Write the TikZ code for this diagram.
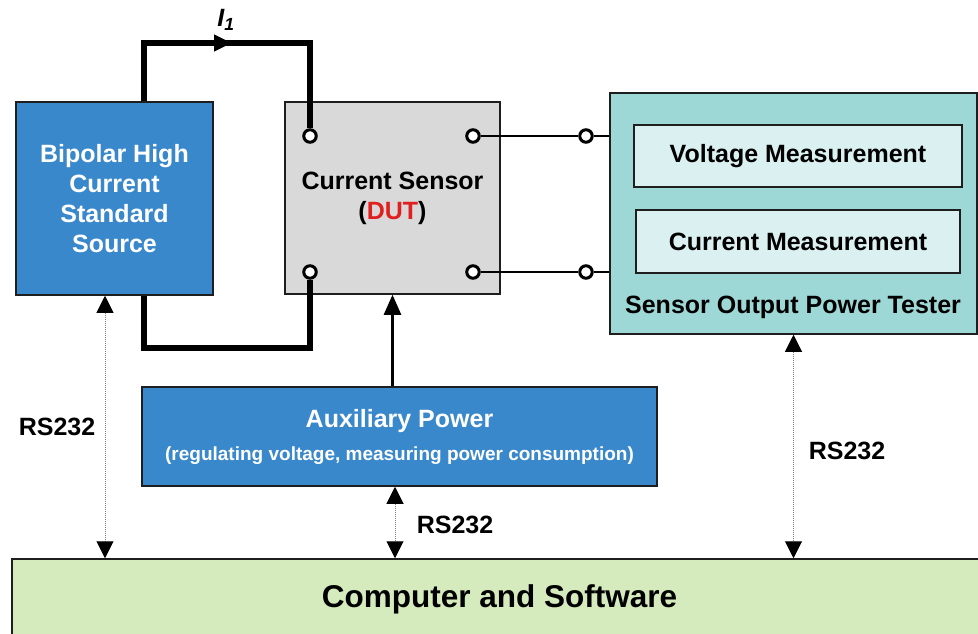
\documentclass[tikz,border=0pt]{standalone}
\usepackage{fontspec}
\setmainfont{Liberation Sans}
\usetikzlibrary{arrows.meta, positioning, calc}
\definecolor{srcblue}{HTML}{3A88CC}
\definecolor{dutgray}{HTML}{D9D9D9}
\definecolor{tealbox}{HTML}{9DD8D6}
\definecolor{tealin}{HTML}{DBF0F0}
\definecolor{pcgreen}{HTML}{D5EBBD}
\definecolor{edge}{HTML}{1E1E1E}
\definecolor{dutred}{HTML}{E0201E}

\begin{document}
\begin{tikzpicture}[x=1pt, y=-1pt,
  >={Triangle[length=20pt 0 0, width=17pt 0 0]},
  blk/.style={draw=edge, line width=1.5pt, fill=#1, align=center,
    inner sep=0pt, font=\bfseries\fontsize{25}{30}\selectfont},
  term/.style={circle, draw=black, line width=3pt, fill=white,
    inner sep=0pt, minimum size=12.5pt},
  wire/.style={line width=6pt},
  lead/.style={line width=1.8pt},
  pwr/.style={->, line width=2.5pt},
  rs/.style={{Triangle[length=17pt 0 0, width=17pt 0 0, color=black]}-{Triangle[length=17pt 0 0, width=17pt 0 0, color=black]},
    densely dotted, draw=gray, line width=1pt},
  lbl/.style={font=\bfseries\fontsize{25}{30}\selectfont, inner sep=0pt},
]
\useasboundingbox (0,0) rectangle (978,634);

% ---- Blocks ----
\node[blk=srcblue, text=white, minimum width=197pt, minimum height=193pt]
  (src) at (114.5,198.5) {Bipolar High\\Current\\Standard\\Source};

\node[blk=dutgray, minimum width=215pt, minimum height=192pt]
  (dut) at (392.5,198) {Current Sensor\\(\textcolor{dutred}{DUT})};

\node[blk=tealbox, minimum width=367pt, minimum height=241pt]
  (tester) at (793.5,213.5) {};
\node[blk=tealin, minimum width=328pt, minimum height=62pt]
  (volt) at (798,156) {Voltage Measurement};
\node[blk=tealin, minimum width=324pt, minimum height=63pt]
  (curr) at (798,241.5) {Current Measurement};
\node[lbl] (testerlbl) at (793,307) {Sensor Output Power Tester};

\node[blk=srcblue, text=white, minimum width=515pt, minimum height=99pt]
  (aux) at (399.5,436.5)
  {Auxiliary Power\\[3pt]
   {\fontsize{19}{22}\selectfont (regulating voltage, measuring power consumption)}};

\node[blk=pcgreen, minimum width=975pt, minimum height=81pt,
  font=\bfseries\fontsize{31.5}{36}\selectfont]
  (pc) at (499.5,599.5) {Computer and Software};

% ---- Terminals ----
\node[term] (t1) at (310,136) {};
\node[term] (t2) at (310,272) {};
\node[term] (t3) at (473,136) {};
\node[term] (t4) at (473,272) {};
\node[term] (t5) at (586,136) {};
\node[term] (t6) at (586,272) {};

% ---- Current loop ----
\coordinate (looptop) at (232,43);
\coordinate (loopbot) at (232,348);
\draw[wire] ([xshift=29.5pt]src.north) |- (looptop) -| (t1.north);
\draw[wire] ([xshift=29.5pt]src.south) |- (loopbot) -| (t2.south);
\draw[wire, -{Triangle[length=18pt 0 0, width=16pt 0 0]}] ([xshift=-18pt]looptop) -- (looptop);
\node[lbl, font=\bfseries\itshape\fontsize{25}{30}\selectfont] (i1) at (226,20)
  {I\textsubscript{1}};

% ---- Sensor outputs ----
\draw[lead] (t3) -- (t5);
\draw[lead] (t5) -- (t5 -| tester.west);
\draw[lead] (t4) -- (t6);
\draw[lead] (t6) -- (t6 -| tester.west);

% ---- Auxiliary supply ----
\draw[pwr] (aux.north -| dut.south) -- (dut.south);

% ---- RS232 links ----
\draw[rs] ([xshift=-9.5pt]src.south) -- ([xshift=-9.5pt]src.south |- pc.north);
\draw[rs] ([xshift=-4.5pt]aux.south) -- ([xshift=-4.5pt]aux.south |- pc.north);
\draw[rs] (tester.south) -- (tester.south |- pc.north);

\node[lbl] (rs1) at (57,427) {RS232};
\node[lbl] (rs2) at (455,525) {RS232};
\node[lbl] (rs3) at (847,451) {RS232};

\end{tikzpicture}
\end{document}
